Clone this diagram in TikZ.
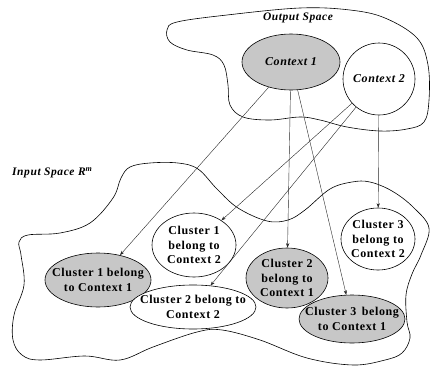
\documentclass[tikz,border=0pt]{standalone}
\usepackage{fontspec}
\setmainfont{Liberation Serif}
\newfontfamily\lbl[LetterSpace=5]{Liberation Serif}
\usetikzlibrary{shapes.geometric,arrows.meta}
\tikzset{
  grayfill/.style={fill=black!22},
  whitefill/.style={fill=white},
  shapebox/.style={draw, line width=0.6pt, inner sep=0pt},
  ctxtext/.style={inner sep=0pt, font=\lbl\bfseries\itshape\fontsize{12}{14}\selectfont},
  clutext/.style={inner sep=0pt, align=center, font=\lbl\bfseries\fontsize{12}{14.5}\selectfont},
  blob/.style={line width=0.6pt},
  conn/.style={line width=0.4pt, draw=black!85, -{Stealth[length=4.5pt,width=3.2pt]}},
  spacelabel/.style={font=\lbl\bfseries\itshape\fontsize{11.5}{14}\selectfont, inner sep=0pt},
}
\begin{document}
\begin{tikzpicture}[x=1pt,y=-1pt]
\useasboundingbox (0,0) rectangle (431,367);
% output space blob
\draw[blob] plot[smooth cycle, tension=0.6] coordinates {
 (177,22) (227,15) (300,8) (350,10) (385,18) (417,38) (428,65) (429,100)
 (424,122) (407,129) (380,131) (347,127) (320,120) (300,117) (270,120)
 (243,117) (230,105) (228,85) (224,65) (213,55) (187,50) (170,42) (167,30)};
% input space blob
\draw[blob] plot[smooth cycle, tension=0.6] coordinates {
 (113,198) (121,178) (130,167) (150,163) (178,163) (198,169) (217,189)
 (238,208) (267,221) (288,220) (305,210) (330,189) (352,182) (370,182)
 (392,191) (413,207) (429,228) (421,255) (412,274) (406,295) (407,322)
 (410,338) (402,353) (385,360) (353,365) (307,358) (260,340) (222,330)
 (197,332) (153,347) (120,360) (85,356) (40,360) (22,355) (13,340)
 (14,315) (24,285) (21,255) (19,242) (28,235) (60,233) (90,223)};
% labels
\node[spacelabel] (outlbl) at (298,18) {Output Space};
\node[spacelabel, anchor=west] (inlbl) at (12,173) {Input Space R\textsuperscript{m}};
% output nodes
\node[shapebox, ellipse, grayfill, minimum width=98pt, minimum height=56pt] (c1) at (291,62) {};
\node[ctxtext] (c1t) at (c1) {Context 1};
\node[shapebox, circle, whitefill, minimum size=72pt] (c2) at (379,79) {};
\node[ctxtext] (c2t) at (c2) {Context 2};
% clusters
\node[shapebox, ellipse, whitefill, minimum width=84pt, minimum height=64pt] (k12) at (194,245) {};
\node[clutext] (k12t) at (k12) {Cluster 1\\belong to\\Context 2};
\node[shapebox, ellipse, whitefill, minimum width=74pt, minimum height=62pt] (k32) at (378,239) {};
\node[clutext] (k32t) at (k32) {Cluster 3\\belong to\\Context 2};
\node[shapebox, ellipse, grayfill, minimum width=106pt, minimum height=54pt] (k11) at (98,280) {};
\node[clutext] (k11t) at (k11) {Cluster 1 belong\\to Context 1};
\node[shapebox, ellipse, grayfill, minimum width=82pt, minimum height=60pt] (k21) at (287,278) {};
\node[clutext] (k21t) at (k21) {Cluster 2\\belong to\\Context 1};
\node[shapebox, ellipse, whitefill, minimum width=126pt, minimum height=44pt] (k22) at (193,307) {};
\node[clutext] (k22t) at (k22) {Cluster 2 belong to\\Context 2};
\node[shapebox, ellipse, grayfill, minimum width=106pt, minimum height=48pt] (k31) at (352,319) {};
\node[clutext] (k31t) at (k31) {Cluster 3\hspace{2pt} belong\\to Context 1};
% connectors
\draw[conn] (c1) -- (k11);
\draw[conn] (c1) -- (k21);
\draw[conn] (c1) -- (k31);
\draw[conn] (c2) -- (k12);
\draw[conn] (c2) -- (k22);
\draw[conn] (c2) -- (k32);
\end{tikzpicture}
\end{document}
